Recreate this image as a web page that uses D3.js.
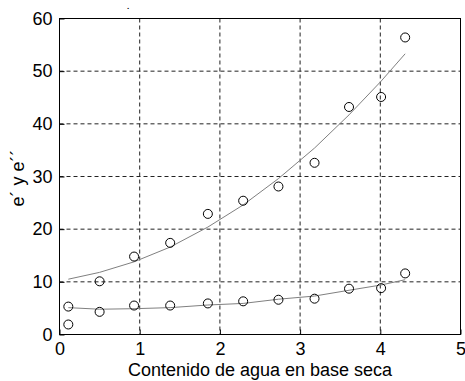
<!doctype html>
<html lang="es">
<head>
<meta charset="UTF-8">
<script src="https://d3js.org/d3.v7.min.js"></script>
<title>e' y e''</title>
<style>
  body { margin: 0; background: #fff; }
  text { font-family: "Liberation Sans", Arial, sans-serif; fill: #000; }
</style>
</head>
<body>
<div class="container"></div>
<script>
    // humedad (base seca) medida
    let xs = [0.11, 0.5, 0.93, 1.38, 1.85, 2.29, 2.73, 3.18, 3.61, 4.01, 4.31];
    // e' medido y ajustado
    let ePrima = [1.9, 10.1, 14.8, 17.4, 22.9, 25.4, 28.1, 32.6, 43.2, 45.1, 56.4];
    let ePrimaFit = [10.5, 11.8, 13.8, 16.6, 20.4, 24.6, 29.6, 35.4, 41.7, 48.1, 53.3];
    // e'' medido y ajustado
    let eDoble = [5.3, 4.3, 5.5, 5.5, 5.9, 6.3, 6.6, 6.8, 8.7, 8.8, 11.6];
    let eDobleFit = [5.1, 4.8, 4.9, 5.1, 5.6, 5.9, 6.7, 7.3, 8.4, 9.4, 10.4];

    let xTicks = [0, 1, 2, 3, 4, 5];
    let yTicks = [0, 10, 20, 30, 40, 50, 60];

    let w = 465, h = 381;
    let mLeft = 59.5, mRight = 460.5, mTop = 18.5, mBottom = 334.5;

    let svg = d3.select(".container").append("svg")
        .attr("width", w)
        .attr("height", h);

    let x = d3.scaleLinear().domain([0, 5]).range([mLeft, mRight]);
    let y = d3.scaleLinear().domain([0, 60]).range([mBottom, mTop]);

    // rejilla punteada
    svg.append("g").selectAll("line")
        .data(xTicks.slice(1, -1))
        .join("line")
        .attr("x1", d => x(d)).attr("x2", d => x(d))
        .attr("y1", mTop).attr("y2", mBottom)
        .attr("stroke", "#222")
        .attr("stroke-dasharray", "4,3");
    svg.append("g").selectAll("line")
        .data(yTicks.slice(1, -1))
        .join("line")
        .attr("y1", d => y(d)).attr("y2", d => y(d))
        .attr("x1", mLeft).attr("x2", mRight)
        .attr("stroke", "#222")
        .attr("stroke-dasharray", "4,3");

    // ejes
    let xAxis = d3.axisBottom(x).tickValues(xTicks).tickSize(-5).tickPadding(8).tickFormat(d3.format("d"));
    let yAxis = d3.axisLeft(y).tickValues(yTicks).tickSize(-5).tickPadding(7).tickFormat(d3.format("d"));

    let gx = svg.append("g").attr("transform", "translate(0," + mBottom + ")").call(xAxis);
    let gy = svg.append("g").attr("transform", "translate(" + mLeft + ",0)").call(yAxis);
    [gx, gy].forEach(g => {
        g.select(".domain").remove();
        g.selectAll("line").attr("stroke", "#000");
        g.selectAll("text").style("font-size", "18px")
            .style("font-family", "'Liberation Sans', Arial, sans-serif");
    });
    gx.selectAll("text").attr("dy", "0.71em");

    // marco
    svg.append("rect")
        .attr("x", mLeft).attr("y", mTop)
        .attr("width", mRight - mLeft).attr("height", mBottom - mTop)
        .attr("fill", "none")
        .attr("stroke", "#000");

    // curvas ajustadas
    let line = d3.line().x(d => x(d[0])).y(d => y(d[1]));
    [ePrimaFit, eDobleFit].forEach(fit => {
        svg.append("path")
            .datum(xs.map((v, i) => [v, fit[i]]))
            .attr("d", line)
            .attr("fill", "none")
            .attr("stroke", "#808080")
            .attr("stroke-width", 1);
    });

    // puntos medidos
    [ePrima, eDoble].forEach(serie => {
        svg.append("g").selectAll("circle")
            .data(xs.map((v, i) => [v, serie[i]]))
            .join("circle")
            .attr("cx", d => x(d[0]))
            .attr("cy", d => y(d[1]))
            .attr("r", 4.5)
            .attr("fill", "none")
            .attr("stroke", "#000");
    });

    // titulo (solo un punto) y etiquetas
    svg.append("text")
        .attr("x", 128).attr("y", 9)
        .attr("text-anchor", "middle")
        .style("font-size", "8px")
        .style("font-weight", "bold")
        .text(".");

    svg.append("text")
        .attr("x", (mLeft + mRight) / 2).attr("y", 376)
        .attr("text-anchor", "middle")
        .style("font-size", "18px")
        .text("Contenido de agua en base seca");

    svg.append("text")
        .attr("transform", "translate(24," + 178 + ") rotate(-90)")
        .attr("text-anchor", "middle")
        .style("font-size", "18px")
        .text("e´ y e´´");
</script>
</body>
</html>
